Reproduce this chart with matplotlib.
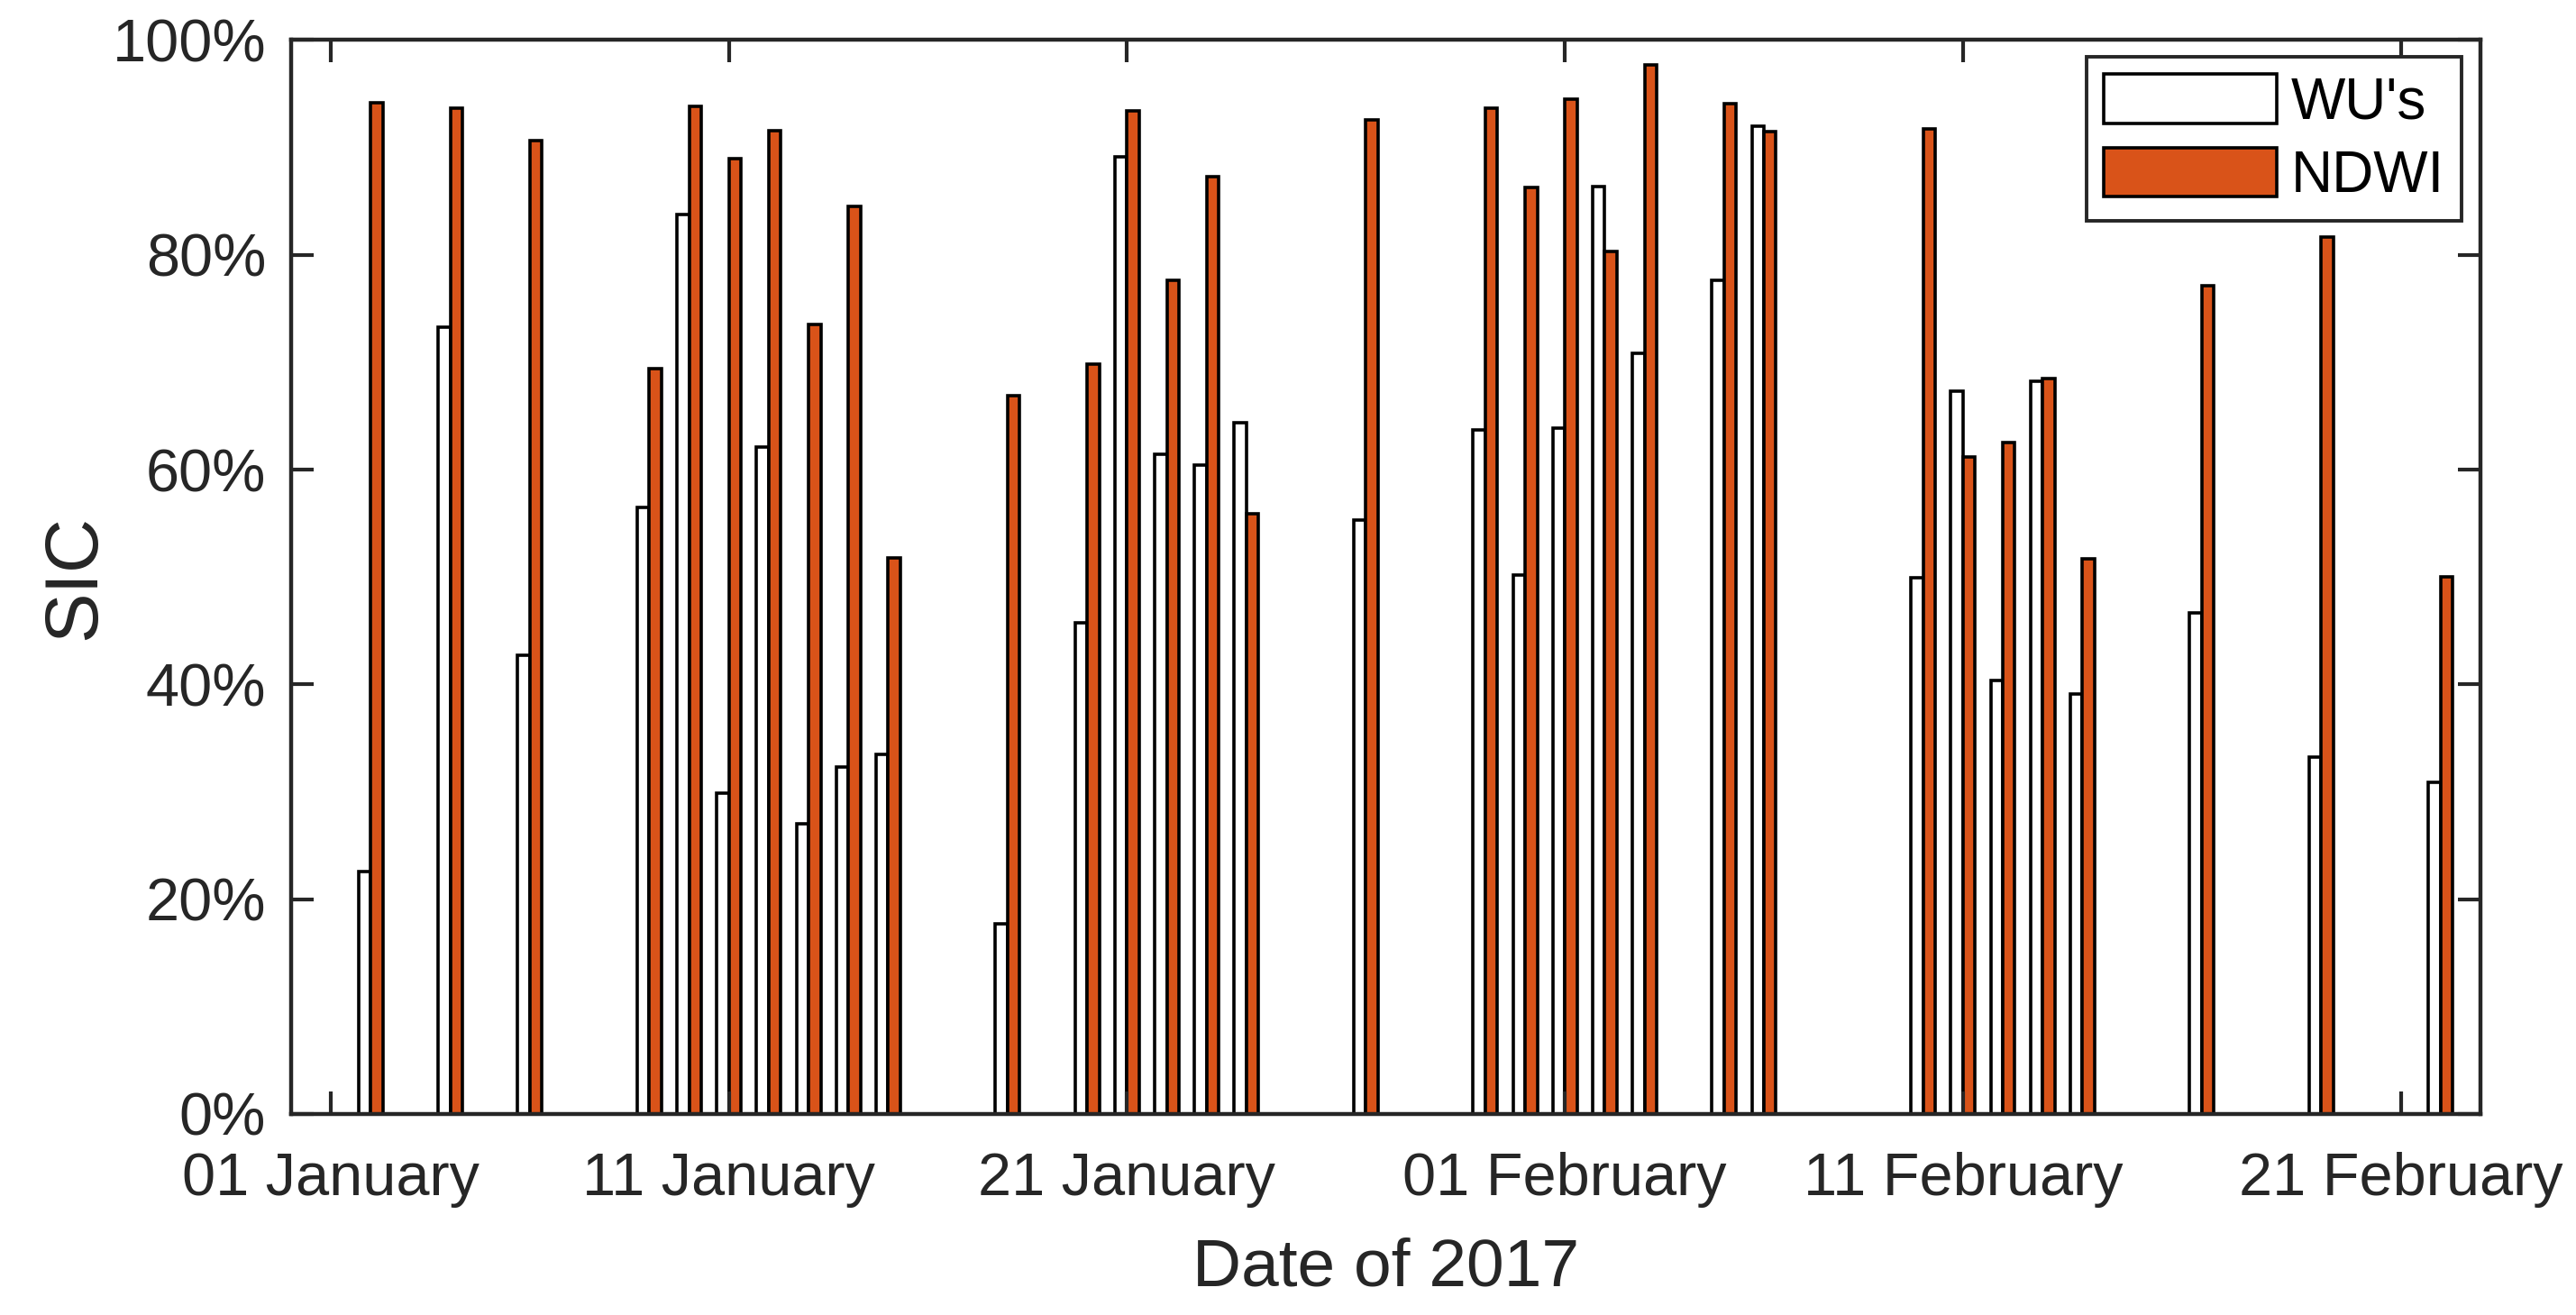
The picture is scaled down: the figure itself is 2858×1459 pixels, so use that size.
import matplotlib
matplotlib.use('Agg')
import matplotlib.pyplot as plt
import matplotlib.dates as mdates
from matplotlib.ticker import PercentFormatter
import pandas as pd

# observation dates (2017) and sea-ice concentration in %
dates = ['2017-01-02', '2017-01-04', '2017-01-06', '2017-01-09', '2017-01-10',
         '2017-01-11', '2017-01-12', '2017-01-13', '2017-01-14', '2017-01-15',
         '2017-01-18', '2017-01-20', '2017-01-21', '2017-01-22', '2017-01-23',
         '2017-01-24', '2017-01-27', '2017-01-30', '2017-01-31', '2017-02-01',
         '2017-02-02', '2017-02-03', '2017-02-05', '2017-02-06', '2017-02-10',
         '2017-02-11', '2017-02-12', '2017-02-13', '2017-02-14', '2017-02-17',
         '2017-02-20', '2017-02-23']
wu = [22.6, 73.3, 42.7, 56.5, 83.8, 29.9, 62.1, 27.0, 32.3, 33.5,
      17.7, 45.7, 89.1, 61.4, 60.4, 64.4, 55.3, 63.7, 50.2, 63.9,
      86.4, 70.8, 77.6, 92.0, 49.9, 67.3, 40.4, 68.2, 39.1, 46.7,
      33.2, 30.9]
ndwi = [94.2, 93.7, 90.6, 69.4, 93.8, 89.0, 91.6, 73.5, 84.5, 51.8,
        66.9, 69.8, 93.4, 77.6, 87.3, 55.9, 92.6, 93.7, 86.3, 94.5,
        80.3, 97.7, 94.1, 91.5, 91.7, 61.2, 62.5, 68.5, 51.7, 77.1,
        81.7, 50.0]

tick_dates = ['2017-01-01', '2017-01-11', '2017-01-21', '2017-02-01',
              '2017-02-11', '2017-02-22']
tick_labels = ['01 January', '11 January', '21 January', '01 February',
               '11 February', '21 February']
y_ticks = [0, 20, 40, 60, 80, 100]

plt.rcParams['font.family'] = ['Liberation Sans', 'DejaVu Sans']
dark = '#262626'

fig = plt.figure(figsize=(14.29, 7.295), dpi=200)
ax = fig.add_axes([0.1130, 0.1529, 0.8499, 0.8166])

x = mdates.date2num(pd.to_datetime(dates))
w = 0.305
ax.bar(x - w / 2, wu, w, color='white', edgecolor='black', linewidth=1.3, label="WU's")
ax.bar(x + w / 2, ndwi, w, color='#D95319', edgecolor='black', linewidth=1.3, label='NDWI')

x0 = mdates.date2num(pd.Timestamp('2016-12-31'))
x1 = mdates.date2num(pd.Timestamp('2017-02-24'))
ax.set_xlim(x0, x1)
ax.set_ylim(0, 100)

ax.set_xticks(mdates.date2num(pd.to_datetime(tick_dates)))
ax.set_xticklabels(tick_labels)
ax.set_yticks(y_ticks)
ax.yaxis.set_major_formatter(PercentFormatter(xmax=100, decimals=0))

ax.tick_params(direction='in', top=True, right=True, length=9, width=1.5,
               color=dark, labelcolor=dark, labelsize=24)
ax.tick_params(axis='x', pad=15)
ax.tick_params(axis='y', pad=10)
for s in ax.spines.values():
    s.set_color(dark)
    s.set_linewidth(1.6)

ax.set_xlabel('Date of 2017', fontsize=27, color=dark, labelpad=12)
ax.set_ylabel('SIC', fontsize=30, color=dark, labelpad=1)

leg = ax.legend(loc='upper right', bbox_to_anchor=(0.9914, 0.9845), borderaxespad=0,
                fontsize=23, handlelength=3.0, handleheight=0.94, handletextpad=0.25,
                borderpad=0.3, labelspacing=0.3, fancybox=False, framealpha=1,
                edgecolor=dark)
leg.get_frame().set_linewidth(1.4)

fig.savefig('out.png', dpi=200)
